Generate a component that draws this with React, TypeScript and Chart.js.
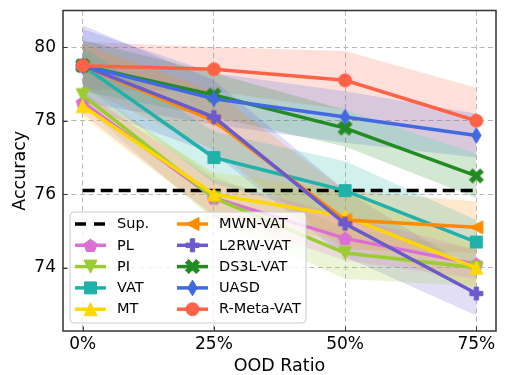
import React, { useEffect, useRef } from 'react';
import { Chart, registerables } from 'chart.js';
Chart.register(...registerables);

// ---------- data ----------
const xValues = [0, 25, 50, 75];
const xTickLabels = ['0%', '25%', '50%', '75%'];
const yTicks = [74, 76, 78, 80];
const supValue = 76.1;

const plMean = [78.5, 75.9, 74.8, 74.1];
const plStd = [0.3, 0.5, 0.6, 0.4];
const piMean = [78.7, 75.9, 74.4, 74.0];
const piStd = [0.3, 0.6, 0.7, 0.5];
const vatMean = [79.5, 77.0, 76.1, 74.7];
const vatStd = [0.5, 0.7, 0.8, 0.6];
const mtMean = [78.4, 76.0, 75.4, 74.0];
const mtStd = [0.3, 0.6, 0.7, 0.6];
const mwnMean = [79.5, 78.0, 75.3, 75.1];
const mwnStd = [0.6, 0.8, 0.8, 0.7];
const l2rwMean = [79.5, 78.1, 75.2, 73.3];
const l2rwStd = [1.1, 1.0, 0.9, 0.6];
const ds3lMean = [79.5, 78.7, 77.8, 76.5];
const ds3lStd = [0.7, 0.6, 0.5, 0.6];
const uasdMean = [79.5, 78.6, 78.1, 77.6];
const uasdStd = [1.0, 0.7, 0.7, 0.6];
const rmetaMean = [79.5, 79.4, 79.1, 78.0];
const rmetaStd = [0.65, 0.6, 0.8, 0.9];

const seriesNames = ['PL', 'PI', 'VAT', 'MT', 'MWN-VAT', 'L2RW-VAT', 'DS3L-VAT', 'UASD', 'R-Meta-VAT'];
const seriesMeans = [plMean, piMean, vatMean, mtMean, mwnMean, l2rwMean, ds3lMean, uasdMean, rmetaMean];
const seriesStds = [plStd, piStd, vatStd, mtStd, mwnStd, l2rwStd, ds3lStd, uasdStd, rmetaStd];
const seriesColors = ['#DA70D6', '#9ACD32', '#20B2AA', '#FFD700', '#FF8C00', '#6A5ACD', '#228B22', '#4169E1', '#FF6347'];
const seriesMarkers = ['pentagon', 'triDown', 'square', 'triUp', 'triLeft', 'plus', 'x', 'thinDiamond', 'circle'];

const FONT = '"DejaVu Sans", sans-serif';

function hexToRgba(hex: string, a: number) {
  const n = parseInt(hex.slice(1), 16);
  return `rgba(${(n >> 16) & 255},${(n >> 8) & 255},${n & 255},${a})`;
}

function plusPath(ctx: CanvasRenderingContext2D, a: number, t: number) {
  const pts = [[-t, -a], [t, -a], [t, -t], [a, -t], [a, t], [t, t], [t, a], [-t, a], [-t, t], [-a, t], [-a, -t], [-t, -t]];
  ctx.moveTo(pts[0][0], pts[0][1]);
  for (let i = 1; i < pts.length; i++) ctx.lineTo(pts[i][0], pts[i][1]);
}

function drawMarkerShape(ctx: CanvasRenderingContext2D, shape: string, color: string, s: number) {
  const h = s / 2;
  ctx.save();
  ctx.fillStyle = color;
  ctx.strokeStyle = color;
  ctx.lineWidth = 1;
  ctx.beginPath();
  switch (shape) {
    case 'circle':
      ctx.arc(0, 0, h, 0, Math.PI * 2);
      break;
    case 'pentagon': {
      const r = h * 1.05;
      for (let k = 0; k < 5; k++) {
        const ang = -Math.PI / 2 + (k * 2 * Math.PI) / 5;
        const px = r * Math.cos(ang), py = r * Math.sin(ang) + r * 0.1;
        if (k === 0) ctx.moveTo(px, py); else ctx.lineTo(px, py);
      }
      break;
    }
    case 'triDown':
      ctx.moveTo(0, h); ctx.lineTo(-h, -h); ctx.lineTo(h, -h);
      break;
    case 'triUp':
      ctx.moveTo(0, -h); ctx.lineTo(-h, h); ctx.lineTo(h, h);
      break;
    case 'triLeft':
      ctx.moveTo(-h, 0); ctx.lineTo(h, -h); ctx.lineTo(h, h);
      break;
    case 'square':
      ctx.rect(-h * 0.92, -h * 0.92, h * 1.84, h * 1.84);
      break;
    case 'plus':
      plusPath(ctx, h, h / 3);
      break;
    case 'x':
      ctx.rotate(Math.PI / 4);
      plusPath(ctx, h * 1.15, h / 3);
      break;
    case 'thinDiamond':
      ctx.moveTo(0, -h * 1.2); ctx.lineTo(h * 0.72, 0); ctx.lineTo(0, h * 1.2); ctx.lineTo(-h * 0.72, 0);
      break;
  }
  ctx.closePath();
  ctx.fill();
  ctx.stroke();
  ctx.restore();
}

function makeMarker(shape: string, color: string, s: number): HTMLCanvasElement {
  const size = Math.ceil(s * 1.6) + 4;
  const c = document.createElement('canvas');
  c.width = size;
  c.height = size;
  const ctx = c.getContext('2d')!;
  ctx.translate(size / 2, size / 2);
  drawMarkerShape(ctx, shape, color, s);
  return c;
}

const MS = 13;

const overlayPlugin = {
  id: 'overlay',
  beforeDraw(chart: any) {
    const ctx = chart.ctx;
    ctx.save();
    ctx.fillStyle = '#ffffff';
    ctx.fillRect(0, 0, chart.width, chart.height);
    ctx.restore();
  },
  afterDraw(chart: any) {
    const ctx: CanvasRenderingContext2D = chart.ctx;
    const { left, right, top, bottom } = chart.chartArea;
    const xs = chart.scales.x, ys = chart.scales.y;
    ctx.save();
    // inward ticks
    ctx.strokeStyle = '#333';
    ctx.lineWidth = 1;
    for (const v of yTicks) {
      const py = Math.round(ys.getPixelForValue(v)) + 0.5;
      ctx.beginPath(); ctx.moveTo(left, py); ctx.lineTo(left + 4.5, py); ctx.stroke();
    }
    for (const v of xValues) {
      const px = Math.round(xs.getPixelForValue(v)) + 0.5;
      ctx.beginPath(); ctx.moveTo(px, bottom); ctx.lineTo(px, bottom - 4.5); ctx.stroke();
    }
    // frame
    ctx.strokeStyle = '#333';
    ctx.lineWidth = 1.5;
    ctx.strokeRect(left, top, right - left, bottom - top);

    // axis titles
    ctx.fillStyle = '#000';
    ctx.font = `17.5px ${FONT}`;
    ctx.textAlign = 'center';
    ctx.textBaseline = 'middle';
    ctx.fillText('OOD Ratio', (left + right) / 2, 366);
    ctx.save();
    ctx.translate(20, (top + bottom) / 2);
    ctx.rotate(-Math.PI / 2);
    ctx.fillText('Accuracy', 0, 0);
    ctx.restore();

    // legend
    const bx = 70, by = 212, bw = 236, bh = 111, r = 4;
    ctx.beginPath();
    ctx.moveTo(bx + r, by);
    ctx.arcTo(bx + bw, by, bx + bw, by + bh, r);
    ctx.arcTo(bx + bw, by + bh, bx, by + bh, r);
    ctx.arcTo(bx, by + bh, bx, by, r);
    ctx.arcTo(bx, by, bx + bw, by, r);
    ctx.closePath();
    ctx.fillStyle = 'rgba(255,255,255,0.8)';
    ctx.fill();
    ctx.strokeStyle = '#cccccc';
    ctx.lineWidth = 1;
    ctx.stroke();

    const names = ['Sup.', ...seriesNames];
    ctx.font = `14.5px ${FONT}`;
    ctx.textAlign = 'left';
    ctx.textBaseline = 'middle';
    for (let i = 0; i < names.length; i++) {
      const col = i < 5 ? 0 : 1;
      const row = i % 5;
      const y = 224 + row * 21.3;
      const x0 = col === 0 ? 75 : 177;
      const x1 = x0 + 31;
      const tx = col === 0 ? 117 : 219;
      ctx.save();
      if (i === 0) {
        ctx.strokeStyle = '#000';
        ctx.lineWidth = 3.5;
        ctx.setLineDash([11, 8]);
        ctx.beginPath(); ctx.moveTo(x0, y); ctx.lineTo(x1, y); ctx.stroke();
      } else {
        const color = seriesColors[i - 1];
        ctx.strokeStyle = color;
        ctx.lineWidth = 3.5;
        ctx.beginPath(); ctx.moveTo(x0, y); ctx.lineTo(x1, y); ctx.stroke();
        ctx.translate((x0 + x1) / 2, y);
        drawMarkerShape(ctx, seriesMarkers[i - 1], color, MS);
      }
      ctx.restore();
      ctx.fillStyle = '#000';
      ctx.fillText(names[i], tx, y + 0.5);
    }
    ctx.restore();
  },
};

export default function App() {
  const ref = useRef<HTMLCanvasElement | null>(null);
  useEffect(() => {
    document.body.style.margin = '0';
    const canvas = ref.current!;
    const datasets: any[] = [];
    // Sup. line
    datasets.push({
      label: 'Sup.',
      data: xValues.map((x) => ({ x, y: supValue })),
      borderColor: '#000',
      borderWidth: 3.5,
      borderDash: [12, 6],
      pointRadius: 0,
      fill: false,
      order: 20,
    });
    seriesNames.forEach((name, i) => {
      const mean = seriesMeans[i];
      const std = seriesStds[i];
      const color = seriesColors[i];
      datasets.push({
        label: name + '_upper',
        data: xValues.map((x, j) => ({ x, y: mean[j] + std[j] })),
        borderWidth: 0,
        borderColor: 'rgba(0,0,0,0)',
        pointRadius: 0,
        backgroundColor: hexToRgba(color, 0.2),
        fill: '+1',
        order: 100,
      });
      datasets.push({
        label: name + '_lower',
        data: xValues.map((x, j) => ({ x, y: mean[j] - std[j] })),
        borderWidth: 0,
        borderColor: 'rgba(0,0,0,0)',
        pointRadius: 0,
        fill: false,
        order: 100,
      });
      datasets.push({
        label: name,
        data: xValues.map((x, j) => ({ x, y: mean[j] })),
        borderColor: color,
        backgroundColor: color,
        borderWidth: 3.5,
        pointStyle: makeMarker(seriesMarkers[i], color, MS),
        pointRadius: 7,
        fill: false,
        order: 10 - i,
      });
    });

    const chart = new Chart(canvas, {
      type: 'line',
      data: { datasets },
      options: {
        animation: false,
        responsive: false,
        maintainAspectRatio: false,
        layout: { padding: { top: 8, right: 13, left: 0, bottom: 0 } },
        plugins: {
          legend: { display: false },
          tooltip: { enabled: false },
          filler: { propagate: false },
        },
        scales: {
          x: {
            type: 'linear',
            min: -3.75,
            max: 78.75,
            afterBuildTicks: (s: any) => { s.ticks = xValues.map((v) => ({ value: v })); },
            afterFit: (s: any) => { s.height = 44; s.paddingLeft = 0; s.paddingRight = 0; },
            ticks: {
              callback: (_v: any, idx: number) => xTickLabels[idx],
              font: { family: FONT, size: 17 },
              color: '#000',
              padding: 3,
              maxRotation: 0,
              autoSkip: false,
            },
            grid: { color: '#b8b8b8', lineWidth: 1, drawTicks: false },
            border: { display: false, dash: [5, 3.5] },
          },
          y: {
            type: 'linear',
            min: 72.28,
            max: 81.0,
            afterBuildTicks: (s: any) => { s.ticks = yTicks.map((v) => ({ value: v })); },
            afterFit: (s: any) => { s.width = 63; s.paddingTop = 0; s.paddingBottom = 0; },
            ticks: {
              callback: (v: any) => String(v),
              font: { family: FONT, size: 17 },
              color: '#000',
              padding: 7,
            },
            grid: { color: '#b8b8b8', lineWidth: 1, drawTicks: false },
            border: { display: false, dash: [5, 3.5] },
          },
        },
      },
      plugins: [overlayPlugin],
    });
    return () => chart.destroy();
  }, []);
  return (
    <div style={{ width: 509, height: 375 }}>
      <canvas ref={ref} width={509} height={375} style={{ display: 'block' }} />
    </div>
  );
}
